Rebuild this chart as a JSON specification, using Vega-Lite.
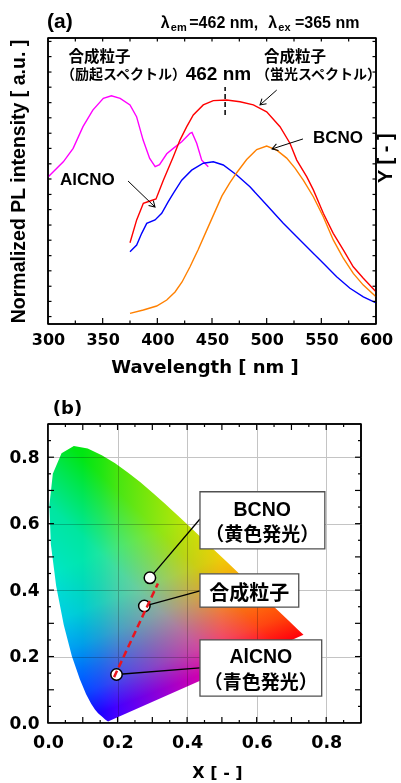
{
  "$schema": "https://vega.github.io/schema/vega-lite/v6.json",
  "background": "white",
  "padding": {"left": 7, "top": 10, "right": 5, "bottom": 5},
  "spacing": 21,
  "config": {
    "view": {"stroke": "black", "strokeWidth": 1.5},
    "axis": {"labelFont": "DejaVu Sans", "labelFontWeight": "bold", "labelColor": "black", "titleColor": "black", "domain": false, "ticks": false, "grid": false, "labelOverlap": false, "labelFlush": false}
  },
  "datasets": {
    "locus": [
      {"i":0,"x":0.1741,"y":0.0050},{"i":1,"x":0.1733,"y":0.0048},{"i":2,"x":0.1714,"y":0.0051},{"i":3,"x":0.1644,"y":0.0109},
      {"i":4,"x":0.1566,"y":0.0177},{"i":5,"x":0.1440,"y":0.0297},{"i":6,"x":0.1355,"y":0.0399},{"i":7,"x":0.1241,"y":0.0578},
      {"i":8,"x":0.1096,"y":0.0868},{"i":9,"x":0.0913,"y":0.1327},{"i":10,"x":0.0687,"y":0.2007},{"i":11,"x":0.0454,"y":0.2950},
      {"i":12,"x":0.0235,"y":0.4127},{"i":13,"x":0.0082,"y":0.5384},{"i":14,"x":0.0039,"y":0.6548},{"i":15,"x":0.0139,"y":0.7502},
      {"i":16,"x":0.0389,"y":0.8120},{"i":17,"x":0.0743,"y":0.8338},{"i":18,"x":0.1142,"y":0.8262},{"i":19,"x":0.1547,"y":0.8059},
      {"i":20,"x":0.1929,"y":0.7816},{"i":21,"x":0.2296,"y":0.7543},{"i":22,"x":0.2658,"y":0.7243},{"i":23,"x":0.3016,"y":0.6923},
      {"i":24,"x":0.3373,"y":0.6589},{"i":25,"x":0.3731,"y":0.6245},{"i":26,"x":0.4087,"y":0.5896},{"i":27,"x":0.4441,"y":0.5547},
      {"i":28,"x":0.4788,"y":0.5202},{"i":29,"x":0.5125,"y":0.4866},{"i":30,"x":0.5448,"y":0.4544},{"i":31,"x":0.5752,"y":0.4242},
      {"i":32,"x":0.6029,"y":0.3965},{"i":33,"x":0.6270,"y":0.3725},{"i":34,"x":0.6658,"y":0.3340},{"i":35,"x":0.6915,"y":0.3083},
      {"i":36,"x":0.7079,"y":0.2920},{"i":37,"x":0.7190,"y":0.2809},{"i":38,"x":0.7300,"y":0.2700},{"i":39,"x":0.7347,"y":0.2653}
    ],
    "atk": [{"v":0.026},{"v":0.079},{"v":0.132},{"v":0.186},{"v":0.239},{"v":0.293},{"v":0.346},{"v":0.4},{"v":0.453},{"v":0.507},{"v":0.56},{"v":0.614},{"v":0.667},{"v":0.721},{"v":0.774},{"v":0.828},{"v":0.881},{"v":0.935},{"v":0.988}],
    "bmaj": [{"x": 0.1}, {"x": 0.2}, {"x": 0.3}, {"x": 0.4}, {"x": 0.5}, {"x": 0.6}, {"x": 0.7}, {"x": 0.8}],
    "bmin": [{"x": 0.05}, {"x": 0.15}, {"x": 0.25}, {"x": 0.35}, {"x": 0.45}, {"x": 0.55}, {"x": 0.65}, {"x": 0.75}, {"x": 0.85}],
    "bedge": [{"x": 0}, {"x": 0.9}]
  },
  "vconcat": [
    {
      "width": 328,
      "height": 286,
      "layer": [
        {
          "data": {"values": [
            {"s":"exc","nm":300,"v":0.514},{"s":"exc","nm":314,"v":0.567},{"s":"exc","nm":323,"v":0.614},{"s":"exc","nm":332,"v":0.690},
            {"s":"exc","nm":341,"v":0.748},{"s":"exc","nm":350.6,"v":0.789},{"s":"exc","nm":358,"v":0.798},{"s":"exc","nm":366,"v":0.789},
            {"s":"exc","nm":375,"v":0.766},{"s":"exc","nm":381,"v":0.725},{"s":"exc","nm":387,"v":0.643},{"s":"exc","nm":393,"v":0.579},
            {"s":"exc","nm":398,"v":0.550},{"s":"exc","nm":402,"v":0.557},{"s":"exc","nm":408.6,"v":0.595},{"s":"exc","nm":414.6,"v":0.614},
            {"s":"exc","nm":422.3,"v":0.637},{"s":"exc","nm":429.9,"v":0.667},{"s":"exc","nm":431.7,"v":0.670},{"s":"exc","nm":436,"v":0.632},
            {"s":"exc","nm":440.6,"v":0.573},{"s":"exc","nm":446.6,"v":0.550},
            {"s":"em","nm":375,"v":0.284},{"s":"em","nm":381.1,"v":0.364},{"s":"em","nm":387.2,"v":0.422},{"s":"em","nm":393.3,"v":0.430},
            {"s":"em","nm":398.8,"v":0.437},{"s":"em","nm":405.5,"v":0.503},{"s":"em","nm":414.6,"v":0.585},{"s":"em","nm":420.7,"v":0.643},
            {"s":"em","nm":426.9,"v":0.690},{"s":"em","nm":432.9,"v":0.731},{"s":"em","nm":442,"v":0.766},{"s":"em","nm":451.2,"v":0.781},
            {"s":"em","nm":463.4,"v":0.783},{"s":"em","nm":475.6,"v":0.777},{"s":"em","nm":487.8,"v":0.766},{"s":"em","nm":500,"v":0.742},
            {"s":"em","nm":512.2,"v":0.690},{"s":"em","nm":521.3,"v":0.632},{"s":"em","nm":527.5,"v":0.573},{"s":"em","nm":536.6,"v":0.515},
            {"s":"em","nm":542.7,"v":0.469},{"s":"em","nm":551.8,"v":0.387},{"s":"em","nm":560.9,"v":0.317},{"s":"em","nm":570.1,"v":0.259},
            {"s":"em","nm":579.2,"v":0.200},{"s":"em","nm":588.4,"v":0.160},{"s":"em","nm":600,"v":0.113},
            {"s":"alcno","nm":375,"v":0.253},{"s":"alcno","nm":381.1,"v":0.276},{"s":"alcno","nm":385.7,"v":0.317},{"s":"alcno","nm":390.3,"v":0.352},
            {"s":"alcno","nm":397.9,"v":0.364},{"s":"alcno","nm":404,"v":0.387},{"s":"alcno","nm":410,"v":0.428},{"s":"alcno","nm":414.6,"v":0.457},
            {"s":"alcno","nm":422.3,"v":0.503},{"s":"alcno","nm":431.4,"v":0.538},{"s":"alcno","nm":442,"v":0.562},{"s":"alcno","nm":451.2,"v":0.567},
            {"s":"alcno","nm":460.3,"v":0.556},{"s":"alcno","nm":472.6,"v":0.521},{"s":"alcno","nm":484.7,"v":0.480},{"s":"alcno","nm":500,"v":0.416},
            {"s":"alcno","nm":515.2,"v":0.352},{"s":"alcno","nm":527.5,"v":0.305},{"s":"alcno","nm":539.6,"v":0.259},{"s":"alcno","nm":551.8,"v":0.212},
            {"s":"alcno","nm":564,"v":0.165},{"s":"alcno","nm":576.2,"v":0.125},{"s":"alcno","nm":588.4,"v":0.095},{"s":"alcno","nm":600,"v":0.074},
            {"s":"bcno","nm":375,"v":0.037},{"s":"bcno","nm":387.2,"v":0.049},{"s":"bcno","nm":399.4,"v":0.063},{"s":"bcno","nm":408.6,"v":0.084},
            {"s":"bcno","nm":416.2,"v":0.112},{"s":"bcno","nm":422.6,"v":0.147},{"s":"bcno","nm":429.9,"v":0.200},{"s":"bcno","nm":437.2,"v":0.259},
            {"s":"bcno","nm":444.5,"v":0.322},{"s":"bcno","nm":451.8,"v":0.385},{"s":"bcno","nm":459.1,"v":0.448},{"s":"bcno","nm":466.4,"v":0.494},
            {"s":"bcno","nm":472.6,"v":0.529},{"s":"bcno","nm":481.7,"v":0.575},{"s":"bcno","nm":490.9,"v":0.610},{"s":"bcno","nm":500,"v":0.622},
            {"s":"bcno","nm":509.2,"v":0.608},{"s":"bcno","nm":518.3,"v":0.580},{"s":"bcno","nm":525.9,"v":0.545},{"s":"bcno","nm":533.5,"v":0.503},
            {"s":"bcno","nm":542.7,"v":0.445},{"s":"bcno","nm":551.8,"v":0.375},{"s":"bcno","nm":560.9,"v":0.294},{"s":"bcno","nm":570.1,"v":0.230},
            {"s":"bcno","nm":579.2,"v":0.177},{"s":"bcno","nm":588.4,"v":0.136},{"s":"bcno","nm":600,"v":0.095}
          ]},
          "mark": {"type": "line", "strokeWidth": 1.4},
          "encoding": {
            "x": {"field": "nm", "type": "quantitative", "scale": {"domain": [300, 600], "nice": false, "zero": false},
                  "axis": {"orient": "bottom", "values": [300, 350, 400, 450, 500, 550, 600], "labelFontSize": 16, "labelPadding": 7, "labelFlush": false, "labelOverlap": false,
                           "title": "Wavelength [ nm ]", "titleFont": "DejaVu Sans", "titleFontSize": 18, "titleFontWeight": "bold", "titleX": 156.5, "titleY": 48, "titleAlign": "center", "titleBaseline": "alphabetic"}},
            "y": {"field": "v", "type": "quantitative", "scale": {"domain": [0, 1], "nice": false, "zero": false},
                  "axis": {"orient": "left", "labels": false, "title": "Normalized PL intensity [ a.u. ]", "titleFont": "Liberation Sans", "titleFontSize": 19.5, "titleFontWeight": "bold", "titleAngle": 270, "titleX": -30, "titleY": 143, "titleAlign": "center", "titleBaseline": "middle"}},
            "color": {"field": "s", "type": "nominal", "scale": {"domain": ["exc", "em", "alcno", "bcno"], "range": ["#ff00ff", "#ff0000", "#0000ff", "#ff8000"]}, "legend": null}
          }
        },
        {"data": {"values": [{"nm": 300}, {"nm": 600}]}, "mark": {"type": "rule", "color": "black", "strokeWidth": 1.6},
         "encoding": {"x": {"field": "nm", "type": "quantitative"}, "y": {"datum": 0, "type": "quantitative"}, "y2": {"datum": 1}}},
        {"data": {"values": [{"v": 0}, {"v": 1}]}, "mark": {"type": "rule", "color": "black", "strokeWidth": 1.6},
         "encoding": {"y": {"field": "v", "type": "quantitative"}, "x": {"datum": 300, "type": "quantitative"}, "x2": {"datum": 600}}},
        {
          "data": {"values": [{"nm": 462, "v": 0.731, "v2": 0.829}]},
          "mark": {"type": "rule", "strokeDash": [5, 3], "strokeWidth": 1.5, "color": "black"},
          "encoding": {"x": {"field": "nm", "type": "quantitative"}, "y": {"field": "v", "type": "quantitative"}, "y2": {"field": "v2"}}
        },
        {
          "data": {"values": [{"nm": 609.1, "v": 0.58, "t": "Y [ - ]"}]},
          "mark": {"type": "text", "font": "Liberation Sans", "fontWeight": "bold", "fontSize": 20, "angle": 270, "align": "center", "baseline": "middle", "color": "black"},
          "encoding": {"x": {"field": "nm", "type": "quantitative"}, "y": {"field": "v", "type": "quantitative"}, "text": {"field": "t"}}
        },
        {
          "data": {"values": [{"nm": 350}, {"nm": 400}, {"nm": 450}, {"nm": 500}, {"nm": 550}]},
          "mark": {"type": "rule", "color": "black", "strokeWidth": 1.2},
          "encoding": {"x": {"field": "nm", "type": "quantitative"}, "y": {"datum": 0, "type": "quantitative"}, "y2": {"datum": 0.021}}
        },
        {
          "data": {"values": [{"nm": 325}, {"nm": 375}, {"nm": 425}, {"nm": 475}, {"nm": 525}, {"nm": 575}]},
          "mark": {"type": "rule", "color": "black", "strokeWidth": 1.2},
          "encoding": {"x": {"field": "nm", "type": "quantitative"}, "y": {"datum": 0, "type": "quantitative"}, "y2": {"datum": 0.012}}
        },
        {
          "data": {"values": [{"nm": 325}, {"nm": 350}, {"nm": 375}, {"nm": 400}, {"nm": 425}, {"nm": 450}, {"nm": 475}, {"nm": 500}, {"nm": 525}, {"nm": 550}, {"nm": 575}]},
          "mark": {"type": "rule", "color": "black", "strokeWidth": 1.2},
          "encoding": {"x": {"field": "nm", "type": "quantitative"}, "y": {"datum": 1, "type": "quantitative"}, "y2": {"datum": 0.988}}
        },
        {
          "data": {"name": "atk"},
          "mark": {"type": "rule", "color": "black", "strokeWidth": 1.2},
          "encoding": {"y": {"field": "v", "type": "quantitative"}, "x": {"datum": 300, "type": "quantitative"}, "x2": {"datum": 303.2}}
        },
        {
          "data": {"name": "atk"},
          "mark": {"type": "rule", "color": "black", "strokeWidth": 1.2},
          "encoding": {"y": {"field": "v", "type": "quantitative"}, "x": {"datum": 600, "type": "quantitative"}, "x2": {"datum": 596.8}}
        },
        {
          "data": {"values": [{"nm": 509.2, "v": 0.818, "nm2": 493.9, "v2": 0.766}, {"nm": 533.2, "v": 0.647, "nm2": 504.9, "v2": 0.612}, {"nm": 373.2, "v": 0.5, "nm2": 397.9, "v2": 0.409}]},
          "mark": {"type": "rule", "color": "black", "strokeWidth": 1},
          "encoding": {"x": {"field": "nm", "type": "quantitative"}, "y": {"field": "v", "type": "quantitative"}, "x2": {"field": "nm2"}, "y2": {"field": "v2"}}
        },
        {
          "data": {"values": [{"nm": 493.9, "v": 0.766}]},
          "mark": {"type": "point", "shape": "M -1 -0.6 L 0 0 L -1 0.6", "filled": false, "stroke": "black", "strokeWidth": 1, "size": 130, "angle": 138, "opacity": 1},
          "encoding": {"x": {"field": "nm", "type": "quantitative"}, "y": {"field": "v", "type": "quantitative"}}
        },
        {
          "data": {"values": [{"nm": 504.9, "v": 0.612}]},
          "mark": {"type": "point", "shape": "M -1 -0.6 L 0 0 L -1 0.6", "filled": false, "stroke": "black", "strokeWidth": 1, "size": 130, "angle": 162, "opacity": 1},
          "encoding": {"x": {"field": "nm", "type": "quantitative"}, "y": {"field": "v", "type": "quantitative"}}
        },
        {
          "data": {"values": [{"nm": 397.9, "v": 0.409}]},
          "mark": {"type": "point", "shape": "M -1 -0.6 L 0 0 L -1 0.6", "filled": false, "stroke": "black", "strokeWidth": 1, "size": 130, "angle": 44, "opacity": 1},
          "encoding": {"x": {"field": "nm", "type": "quantitative"}, "y": {"field": "v", "type": "quantitative"}}
        },
        {
          "data": {"values": [{"nm": 311, "v": 0.486, "t": "AlCNO"}, {"nm": 542.4, "v": 0.632, "t": "BCNO"}]},
          "mark": {"type": "text", "font": "Liberation Sans", "fontWeight": "bold", "fontSize": 17, "align": "left", "baseline": "alphabetic", "color": "black"},
          "encoding": {"x": {"field": "nm", "type": "quantitative"}, "y": {"field": "v", "type": "quantitative"}, "text": {"field": "t"}}
        },
        {
          "data": {"values": [{"nm": 455.9, "v": 0.874, "t": "462 nm"}]},
          "mark": {"type": "text", "font": "Liberation Sans", "fontWeight": "bold", "fontSize": 19, "align": "center", "baseline": "middle", "color": "black"},
          "encoding": {"x": {"field": "nm", "type": "quantitative"}, "y": {"field": "v", "type": "quantitative"}, "text": {"field": "t"}}
        },
        {
          "data": {"values": [{"nm": 347.1, "v": 0.935, "t": "合成粒子"}, {"nm": 525.9, "v": 0.935, "t": "合成粒子"}]},
          "mark": {"type": "text", "font": "Noto Sans CJK JP", "fontWeight": "bold", "fontSize": 15.5, "align": "center", "baseline": "middle", "color": "black"},
          "encoding": {"x": {"field": "nm", "type": "quantitative"}, "y": {"field": "v", "type": "quantitative"}, "text": {"field": "t"}}
        },
        {
          "data": {"values": [{"nm": 369.1, "v": 0.869, "t": "（励起スペクトル）"}, {"nm": 547.4, "v": 0.869, "t": "（蛍光スペクトル）"}]},
          "mark": {"type": "text", "font": "Noto Sans CJK JP", "fontWeight": "bold", "fontSize": 14, "align": "center", "baseline": "middle", "color": "black"},
          "encoding": {"x": {"field": "nm", "type": "quantitative"}, "y": {"field": "v", "type": "quantitative"}, "text": {"field": "t"}}
        },
        {
          "data": {"values": [{"nm": 299.1, "v": 1.035, "t": "(a)"}]},
          "mark": {"type": "text", "font": "Liberation Sans", "fontWeight": "bold", "fontSize": 21, "align": "left", "baseline": "alphabetic", "color": "black"},
          "encoding": {"x": {"field": "nm", "type": "quantitative"}, "y": {"field": "v", "type": "quantitative"}, "text": {"field": "t"}}
        },
        {
          "data": {"values": [{"nm": 403.1, "v": 1.036, "t": "λ"}, {"nm": 429.2, "v": 1.036, "t": "=462 nm,"}, {"nm": 501.5, "v": 1.036, "t": "λ"}, {"nm": 525.9, "v": 1.036, "t": "=365 nm"}]},
          "mark": {"type": "text", "font": "Liberation Sans", "fontWeight": "bold", "fontSize": 16, "align": "left", "baseline": "alphabetic", "color": "black"},
          "encoding": {"x": {"field": "nm", "type": "quantitative"}, "y": {"field": "v", "type": "quantitative"}, "text": {"field": "t"}}
        },
        {
          "data": {"values": [{"nm": 412.3, "v": 1.024, "t": "em"}, {"nm": 510.7, "v": 1.024, "t": "ex"}]},
          "mark": {"type": "text", "font": "Liberation Sans", "fontWeight": "bold", "fontSize": 11, "align": "left", "baseline": "alphabetic", "color": "black"},
          "encoding": {"x": {"field": "nm", "type": "quantitative"}, "y": {"field": "v", "type": "quantitative"}, "text": {"field": "t"}}
        }
      ]
    },
    {
      "width": 313,
      "height": 299,
      "layer": [
        {
          "data": {"name": "locus"},
          "mark": {"type": "line", "interpolate": "linear-closed", "filled": true, "strokeOpacity": 0, "blend": "multiply",
                   "fill": {"gradient": "linear", "x1": 0, "y1": 0, "x2": 1, "y2": 0, "stops": [
                     {"offset": 0, "color": "rgb(0,255,255)"}, {"offset": 0.131, "color": "rgb(0,255,255)"}, {"offset": 0.2, "color": "rgb(30,255,255)"},
                     {"offset": 0.268, "color": "rgb(70,255,255)"}, {"offset": 0.405, "color": "rgb(130,255,255)"}, {"offset": 0.542, "color": "rgb(190,255,255)"},
                     {"offset": 0.678, "color": "rgb(240,255,255)"}, {"offset": 0.815, "color": "rgb(255,255,255)"}, {"offset": 1, "color": "rgb(255,255,255)"}]}},
          "encoding": {
            "x": {"field": "x", "type": "quantitative", "scale": {"domain": [0, 0.9], "nice": false, "zero": false},
                  "axis": {"orient": "bottom", "values": [0, 0.1, 0.2, 0.3, 0.4, 0.5, 0.6, 0.7, 0.8, 0.9], "format": ".1f", "grid": true, "gridColor": "#c4c4c4", "gridWidth": 1,
                           "labelFontSize": 17.5, "labelPadding": 10, "labelFlush": false, "labelOverlap": false,
                           "title": "X [ - ]", "titleFont": "DejaVu Sans", "titleFontSize": 16, "titleFontWeight": "bold", "titleX": 169, "titleY": 54, "titleAlign": "center", "titleBaseline": "alphabetic"}},
            "y": {"field": "y", "type": "quantitative", "scale": {"domain": [0, 0.9], "nice": false, "zero": false},
                  "axis": {"orient": "left", "values": [0, 0.1, 0.2, 0.3, 0.4, 0.5, 0.6, 0.7, 0.8, 0.9], "format": ".1f", "grid": true, "gridColor": "#c4c4c4", "gridWidth": 1,
                           "labelFontSize": 17, "labelPadding": 9, "labelOverlap": false, "title": null}},
            "order": {"field": "i", "type": "quantitative"}
          }
        },
        {
          "data": {"name": "locus"},
          "mark": {"type": "line", "interpolate": "linear-closed", "filled": true, "strokeOpacity": 0, "blend": "multiply",
                   "fill": {"gradient": "linear", "x1": 1, "y1": 1, "x2": 0.576, "y2": -0.2026, "stops": [
                     {"offset": 0, "color": "rgb(255,0,255)"}, {"offset": 0.231, "color": "rgb(255,0,255)"}, {"offset": 0.302, "color": "rgb(255,70,255)"},
                     {"offset": 0.365, "color": "rgb(255,110,255)"}, {"offset": 0.436, "color": "rgb(255,160,255)"}, {"offset": 0.525, "color": "rgb(255,205,255)"},
                     {"offset": 0.659, "color": "rgb(255,230,255)"}, {"offset": 1, "color": "rgb(255,230,255)"}]}},
          "encoding": {"x": {"field": "x", "type": "quantitative"}, "y": {"field": "y", "type": "quantitative"}, "order": {"field": "i", "type": "quantitative"}}
        },
        {
          "data": {"name": "locus"},
          "mark": {"type": "line", "interpolate": "linear-closed", "filled": true, "strokeOpacity": 0, "blend": "multiply",
                   "fill": {"gradient": "linear", "x1": 1, "y1": 0, "x2": 0.067, "y2": 1.059, "stops": [
                     {"offset": 0, "color": "rgb(255,255,0)"}, {"offset": 0.378, "color": "rgb(255,255,10)"}, {"offset": 0.429, "color": "rgb(255,255,20)"},
                     {"offset": 0.493, "color": "rgb(255,255,80)"}, {"offset": 0.583, "color": "rgb(255,255,160)"}, {"offset": 0.666, "color": "rgb(255,255,185)"},
                     {"offset": 0.781, "color": "rgb(255,255,230)"}, {"offset": 0.852, "color": "rgb(255,255,255)"}, {"offset": 1, "color": "rgb(255,255,255)"}]}},
          "encoding": {"x": {"field": "x", "type": "quantitative"}, "y": {"field": "y", "type": "quantitative"}, "order": {"field": "i", "type": "quantitative"}}
        },
        {"data": {"name": "bedge"}, "mark": {"type": "rule", "color": "black", "strokeWidth": 1.6},
         "encoding": {"x": {"field": "x", "type": "quantitative"}, "y": {"datum": 0, "type": "quantitative"}, "y2": {"datum": 0.9}}},
        {"data": {"name": "bedge"}, "mark": {"type": "rule", "color": "black", "strokeWidth": 1.6},
         "encoding": {"y": {"field": "x", "type": "quantitative"}, "x": {"datum": 0, "type": "quantitative"}, "x2": {"datum": 0.9}}},
        {"data": {"name": "bmaj"}, "mark": {"type": "rule", "color": "black", "strokeWidth": 1.2}, "encoding": {"x": {"field": "x", "type": "quantitative"}, "y": {"datum": 0, "type": "quantitative"}, "y2": {"datum": 0.018}}},
        {"data": {"name": "bmaj"}, "mark": {"type": "rule", "color": "black", "strokeWidth": 1.2}, "encoding": {"x": {"field": "x", "type": "quantitative"}, "y": {"datum": 0.9, "type": "quantitative"}, "y2": {"datum": 0.882}}},
        {"data": {"name": "bmaj"}, "mark": {"type": "rule", "color": "black", "strokeWidth": 1.2}, "encoding": {"y": {"field": "x", "type": "quantitative"}, "x": {"datum": 0, "type": "quantitative"}, "x2": {"datum": 0.0172}}},
        {"data": {"name": "bmaj"}, "mark": {"type": "rule", "color": "black", "strokeWidth": 1.2}, "encoding": {"y": {"field": "x", "type": "quantitative"}, "x": {"datum": 0.9, "type": "quantitative"}, "x2": {"datum": 0.8828}}},
        {"data": {"name": "bmin"}, "mark": {"type": "rule", "color": "black", "strokeWidth": 1.2}, "encoding": {"x": {"field": "x", "type": "quantitative"}, "y": {"datum": 0, "type": "quantitative"}, "y2": {"datum": 0.009}}},
        {"data": {"name": "bmin"}, "mark": {"type": "rule", "color": "black", "strokeWidth": 1.2}, "encoding": {"x": {"field": "x", "type": "quantitative"}, "y": {"datum": 0.9, "type": "quantitative"}, "y2": {"datum": 0.891}}},
        {"data": {"name": "bmin"}, "mark": {"type": "rule", "color": "black", "strokeWidth": 1.2}, "encoding": {"y": {"field": "x", "type": "quantitative"}, "x": {"datum": 0, "type": "quantitative"}, "x2": {"datum": 0.0086}}},
        {"data": {"name": "bmin"}, "mark": {"type": "rule", "color": "black", "strokeWidth": 1.2}, "encoding": {"y": {"field": "x", "type": "quantitative"}, "x": {"datum": 0.9, "type": "quantitative"}, "x2": {"datum": 0.8914}}},
        {
          "data": {"values": [{"x": 0.293, "y": 0.437, "x2": 0.437, "y2": 0.614}, {"x": 0.277, "y": 0.352, "x2": 0.437, "y2": 0.398}, {"x": 0.197, "y": 0.146, "x2": 0.437, "y2": 0.166}]},
          "mark": {"type": "rule", "color": "black", "strokeWidth": 1.3},
          "encoding": {"x": {"field": "x", "type": "quantitative"}, "y": {"field": "y", "type": "quantitative"}, "x2": {"field": "x2"}, "y2": {"field": "y2"}}
        },
        {
          "data": {"values": [{"x": 0.293, "y": 0.437}, {"x": 0.277, "y": 0.352}, {"x": 0.197, "y": 0.146}]},
          "mark": {"type": "point", "shape": "circle", "filled": true, "fill": "white", "stroke": "black", "strokeWidth": 1.5, "size": 130, "opacity": 1},
          "encoding": {"x": {"field": "x", "type": "quantitative"}, "y": {"field": "y", "type": "quantitative"}}
        },
        {
          "data": {"values": [{"x": 0.19, "y": 0.138, "x2": 0.316, "y2": 0.42}]},
          "mark": {"type": "rule", "color": "#e8141e", "strokeWidth": 2.5, "strokeDash": [7, 4]},
          "encoding": {"x": {"field": "x", "type": "quantitative"}, "y": {"field": "y", "type": "quantitative"}, "x2": {"field": "x2"}, "y2": {"field": "y2"}}
        },
        {
          "data": {"values": [{"x": 0.437, "x2": 0.796, "y": 0.524, "y2": 0.696}, {"x": 0.437, "x2": 0.721, "y": 0.349, "y2": 0.449}, {"x": 0.437, "x2": 0.787, "y": 0.081, "y2": 0.25}]},
          "mark": {"type": "rect", "fill": "white", "stroke": "#505050", "strokeWidth": 1.3},
          "encoding": {"x": {"field": "x", "type": "quantitative"}, "x2": {"field": "x2"}, "y": {"field": "y", "type": "quantitative"}, "y2": {"field": "y2"}}
        },
        {
          "data": {"values": [{"x": 0.616, "y": 0.623, "t": "BCNO"}, {"x": 0.612, "y": 0.1816, "t": "AlCNO"}]},
          "mark": {"type": "text", "font": "Liberation Sans", "fontWeight": "bold", "fontSize": 19.5, "align": "center", "baseline": "alphabetic", "color": "black"},
          "encoding": {"x": {"field": "x", "type": "quantitative"}, "y": {"field": "y", "type": "quantitative"}, "text": {"field": "t"}}
        },
        {
          "data": {"values": [{"x": 0.616, "y": 0.566, "t": "（黄色発光）"}, {"x": 0.612, "y": 0.121, "t": "（青色発光）"}]},
          "mark": {"type": "text", "font": "Noto Sans CJK JP", "fontWeight": "bold", "fontSize": 19, "align": "center", "baseline": "middle", "color": "black"},
          "encoding": {"x": {"field": "x", "type": "quantitative"}, "y": {"field": "y", "type": "quantitative"}, "text": {"field": "t"}}
        },
        {
          "data": {"values": [{"x": 0.579, "y": 0.389, "t": "合成粒子"}]},
          "mark": {"type": "text", "font": "Noto Sans CJK JP", "fontWeight": "bold", "fontSize": 20, "align": "center", "baseline": "middle", "color": "black"},
          "encoding": {"x": {"field": "x", "type": "quantitative"}, "y": {"field": "y", "type": "quantitative"}, "text": {"field": "t"}}
        },
        {
          "data": {"values": [{"x": 0.014, "y": 0.931, "t": "(b)"}]},
          "mark": {"type": "text", "font": "DejaVu Sans", "fontWeight": "bold", "fontSize": 18, "align": "left", "baseline": "alphabetic", "color": "black"},
          "encoding": {"x": {"field": "x", "type": "quantitative"}, "y": {"field": "y", "type": "quantitative"}, "text": {"field": "t"}}
        }
      ]
    }
  ]
}
